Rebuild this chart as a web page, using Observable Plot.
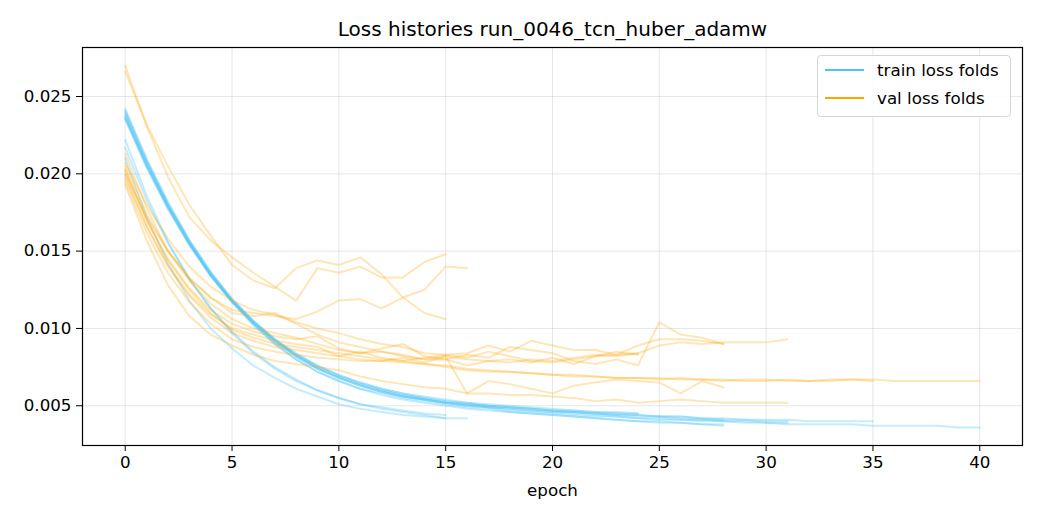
<!DOCTYPE html>
<html>
<head>
<meta charset="utf-8">
<script src="https://cdn.jsdelivr.net/npm/d3@7"></script>
<script src="https://cdn.jsdelivr.net/npm/@observablehq/plot@0.6"></script>
<style>
  html, body { margin: 0; padding: 0; background: #fff; }
  #wrap { position: relative; width: 1040px; height: 520px; font-family: "DejaVu Sans", sans-serif; }
  #legend { position: absolute; left: 817px; top: 55px; width: 192px; height: 60px;
    border: 1px solid #d6d6d6; border-radius: 4px; background: rgba(255,255,255,0.85);
    font-size: 16.7px; color: #000; }
  .item { position: absolute; left: 7px; display: flex; align-items: center; }
  .swatch { width: 39px; height: 0; border-top: 2px solid; margin-right: 13px; }
</style>
</head>
<body>
<div id="wrap"></div>
<script>
const title = "Loss histories run_0046_tcn_huber_adamw";
const xTicks = [0, 5, 10, 15, 20, 25, 30, 35, 40];
const yTicks = [0.005, 0.010, 0.015, 0.020, 0.025];
const seriesNames = ["train loss folds", "val loss folds"];
const seriesColors = ["#4fc3f7", "#ffa500"];

const trainLoss = [
  [.0222,.0186,.0156,.0132,.0113,.0097,.0084,.0074,.0066,.0060,.0055,.0051,.0049,.0047,.0045,.0044],
  [.0210,.0172,.0142,.0118,.0100,.0087,.0076,.0068,.0061,.0056,.0051,.0048,.0046,.0044,.0043,.0042,.0042],
  [.0217,.0183,.0155,.0132,.0113,.0098,.0085,.0075,.0067,.0060,.0055,.0051,.0048,.0046,.0044,.0042],
  [.0238,.0207,.0180,.0156,.0136,.0119,.0105,.0093,.0084,.0076,.0070,.0065,.0061,.0058,.0056,.0054,.0052,.0051,.0050,.0049,.0048,.0047,.0046,.0046,.0045],
  [.0236,.0205,.0178,.0154,.0134,.0117,.0103,.0091,.0082,.0074,.0068,.0063,.0059,.0056,.0054,.0052,.0051,.0050,.0049,.0048,.0047,.0047,.0046,.0045,.0045],
  [.0241,.0209,.0181,.0157,.0136,.0118,.0103,.0090,.0080,.0072,.0066,.0061,.0057,.0054,.0052,.0050,.0048,.0047,.0046,.0045,.0044,.0043,.0042,.0041,.0040,.0039,.0039,.0038,.0037],
  [.0239,.0207,.0179,.0155,.0134,.0117,.0102,.0090,.0080,.0072,.0066,.0061,.0058,.0055,.0053,.0051,.0049,.0048,.0046,.0045,.0044,.0043,.0042,.0041,.0040,.0040,.0039,.0038,.0038],
  [.0235,.0204,.0177,.0154,.0134,.0117,.0103,.0092,.0083,.0075,.0069,.0064,.0060,.0057,.0055,.0053,.0051,.0050,.0049,.0048,.0047,.0046,.0045,.0044,.0043,.0043,.0042,.0041,.0041],
  [.0240,.0208,.0180,.0156,.0135,.0118,.0104,.0092,.0082,.0074,.0068,.0063,.0059,.0056,.0054,.0052,.0050,.0049,.0048,.0047,.0046,.0045,.0044,.0043,.0042,.0042,.0041,.0041,.0040,.0040,.0039,.0039],
  [.0237,.0206,.0179,.0155,.0135,.0118,.0104,.0093,.0083,.0076,.0070,.0065,.0061,.0058,.0055,.0053,.0052,.0050,.0049,.0048,.0047,.0046,.0045,.0045,.0044,.0043,.0043,.0042,.0041,.0041,.0040,.0040],
  [.0242,.0210,.0182,.0157,.0137,.0119,.0105,.0093,.0083,.0075,.0069,.0064,.0060,.0057,.0054,.0052,.0051,.0049,.0048,.0047,.0046,.0046,.0045,.0044,.0044,.0043,.0043,.0042,.0042,.0041,.0041,.0041,.0040,.0040,.0040,.0040],
  [.0236,.0205,.0178,.0155,.0135,.0118,.0104,.0092,.0082,.0074,.0068,.0063,.0059,.0056,.0054,.0052,.0050,.0049,.0047,.0046,.0045,.0044,.0043,.0043,.0042,.0041,.0041,.0040,.0040,.0039,.0039,.0038,.0038,.0038,.0038,.0037,.0037,.0037,.0037,.0036,.0036]
];

const valLoss = [
  [.0270,.0231,.0198,.0172,.0157,.0146,.0136,.0127,.0118,.0139,.0136,.0140,.0133,.0133,.0143,.0148],
  [.0213,.0178,.0150,.0132,.0120,.0112,.0110,.0108,.0106,.0111,.0118,.0119,.0113,.0120,.0125,.0140,.0139],
  [.0266,.0232,.0205,.0180,.0160,.0141,.0131,.0126,.0139,.0144,.0141,.0146,.0135,.0120,.0110,.0106],
  [.0207,.0180,.0158,.0140,.0127,.0118,.0112,.0109,.0104,.0100,.0097,.0093,.0090,.0088,.0084,.0083,.0081,.0085,.0082,.0079,.0078,.0080,.0082,.0085,.0083],
  [.0200,.0172,.0150,.0133,.0120,.0110,.0108,.0110,.0103,.0096,.0091,.0088,.0085,.0083,.0080,.0080,.0076,.0079,.0080,.0078,.0081,.0077,.0082,.0083,.0084],
  [.0203,.0170,.0145,.0126,.0112,.0103,.0098,.0095,.0093,.0095,.0087,.0084,.0087,.0090,.0082,.0080,.0083,.0081,.0088,.0086,.0084,.0079,.0077,.0080,.0076,.0104,.0096,.0094,.0090],
  [.0197,.0166,.0141,.0122,.0109,.0100,.0096,.0092,.0090,.0088,.0082,.0085,.0081,.0079,.0081,.0083,.0084,.0089,.0085,.0092,.0089,.0086,.0086,.0083,.0089,.0093,.0093,.0092,.0090],
  [.0195,.0162,.0136,.0117,.0103,.0093,.0088,.0085,.0083,.0081,.0080,.0079,.0079,.0081,.0078,.0082,.0058,.0066,.0064,.0061,.0058,.0063,.0065,.0067,.0066,.0065,.0058,.0066,.0062],
  [.0205,.0174,.0150,.0131,.0116,.0106,.0100,.0097,.0094,.0090,.0086,.0084,.0085,.0082,.0080,.0082,.0080,.0079,.0078,.0080,.0079,.0081,.0083,.0082,.0084,.0089,.0091,.0090,.0091,.0091,.0091,.0093],
  [.0193,.0157,.0128,.0108,.0096,.0089,.0083,.0079,.0077,.0075,.0073,.0069,.0066,.0064,.0062,.0061,.0058,.0058,.0057,.0057,.0056,.0055,.0053,.0054,.0052,.0053,.0054,.0053,.0052,.0052,.0052,.0052],
  [.0199,.0166,.0140,.0121,.0107,.0097,.0092,.0088,.0086,.0084,.0082,.0080,.0079,.0078,.0077,.0076,.0074,.0073,.0072,.0071,.0070,.0070,.0069,.0068,.0068,.0068,.0067,.0067,.0066,.0067,.0067,.0066,.0066,.0067,.0067,.0066],
  [.0202,.0170,.0144,.0125,.0110,.0099,.0094,.0090,.0088,.0086,.0084,.0082,.0080,.0079,.0077,.0075,.0073,.0072,.0072,.0071,.0070,.0069,.0069,.0068,.0068,.0067,.0068,.0067,.0067,.0066,.0066,.0067,.0066,.0066,.0067,.0067,.0066,.0066,.0066,.0066,.0066]
];

function toRows(folds, kind) {
  const rows = [];
  folds.forEach((arr, f) => arr.forEach((v, e) => rows.push({fold: kind + f, epoch: e, loss: v})));
  return rows;
}
const trainRows = toRows(trainLoss, "t");
const valRows = toRows(valLoss, "v");

const chart = Plot.plot({
  width: 1040,
  height: 520,
  marginLeft: 82,
  marginRight: 18,
  marginTop: 47,
  marginBottom: 75,
  style: { fontFamily: "DejaVu Sans, sans-serif", fontSize: "16.7px", color: "#000", background: "#fff" },
  x: { domain: [-2, 42] },
  y: { domain: [0.00243, 0.02817] },
  marks: [
    Plot.gridX(xTicks, { stroke: "#b0b0b0", strokeOpacity: 0.3 }),
    Plot.gridY(yTicks, { stroke: "#b0b0b0", strokeOpacity: 0.3 }),
    Plot.line(trainRows, { x: "epoch", y: "loss", z: "fold", stroke: seriesColors[0], strokeOpacity: 0.32, strokeWidth: 2 }),
    Plot.line(valRows, { x: "epoch", y: "loss", z: "fold", stroke: seriesColors[1], strokeOpacity: 0.28, strokeWidth: 2 }),
    Plot.frame({ stroke: "#000", strokeWidth: 1.2 }),
    Plot.axisX({ ticks: xTicks, tickSize: 6, tickPadding: 5, tickFormat: d3.format("d"), label: "epoch", labelAnchor: "center", labelArrow: "none", labelOffset: 50, fontSize: 16.7 }),
    Plot.axisY({ ticks: yTicks, tickSize: 6, tickPadding: 5, tickFormat: d3.format(".3f"), label: null, fontSize: 16.7 }),
    Plot.text([title], { frameAnchor: "top", lineAnchor: "middle", dy: -18, fontSize: 20, fill: "#000" })
  ]
});

const wrap = document.getElementById("wrap");
wrap.appendChild(chart);
const legend = document.createElement("div");
legend.id = "legend";
seriesNames.forEach((name, i) => {
  const item = document.createElement("div");
  item.className = "item";
  item.style.top = (i === 0 ? 4 : 32) + "px";
  const sw = document.createElement("span");
  sw.className = "swatch";
  sw.style.borderTopColor = seriesColors[i];
  const lab = document.createElement("span");
  lab.textContent = name;
  item.appendChild(sw);
  item.appendChild(lab);
  legend.appendChild(item);
});
wrap.appendChild(legend);
</script>
</body>
</html>
